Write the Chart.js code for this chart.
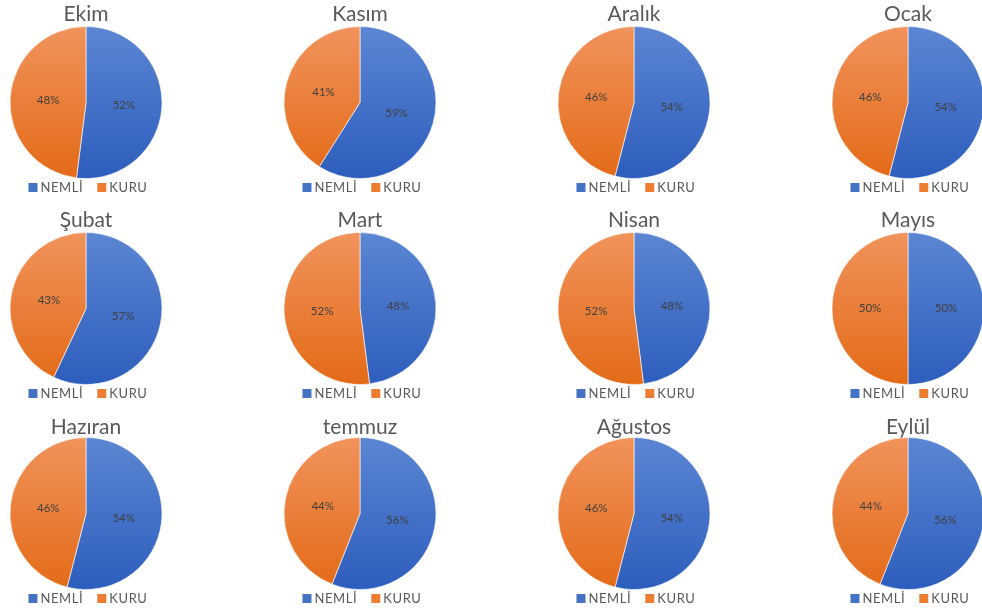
<!DOCTYPE html>
<html>
<head>
<meta charset="utf-8">
<script src="https://cdn.jsdelivr.net/npm/chart.js@4"></script>
<style>
  html, body { margin: 0; padding: 0; background: #fff; overflow: hidden; }
  body { width: 982px; height: 613px; position: relative; }
  .cell { position: absolute; width: 200px; }
</style>
</head>
<body>
<script>
// aylar ve yüzdeler
const aylar = ["Ekim","Kasım","Aralık","Ocak","Şubat","Mart","Nisan","Mayıs","Hazıran","temmuz","Ağustos","Eylül"];
const etiketler = ["NEMLİ","KURU"];
const nemli = [52,59,54,54,57,48,48,50,54,56,54,56];
const kuru  = [48,41,46,46,43,52,52,50,46,44,46,44];

const merkezX = [86,360,634,908];
const pastaUst = [26,232,437];     // pasta üst kenarı
const baslikYuk = [23,24,20];      // başlık satır yüksekliği

const renkUst = ["#5c86d3","#f1935c"];
const renkAlt = ["#2d5dbd","#e36a17"];
const duz = ["#4472c4","#ed7d31"];

function gradyan(c) {
  const chart = c.chart;
  const area = chart.chartArea;
  if (!area) return duz[c.dataIndex];
  const g = chart.ctx.createLinearGradient(0, area.top, 0, area.bottom);
  g.addColorStop(0, renkUst[c.dataIndex]);
  g.addColorStop(1, renkAlt[c.dataIndex]);
  return g;
}

const yuzdeEtiket = {
  id: "yuzdeEtiket",
  afterDatasetsDraw(chart) {
    const ctx = chart.ctx;
    const meta = chart.getDatasetMeta(0);
    const data = chart.data.datasets[0].data;
    ctx.save();
    ctx.font = "11.5px Lato";
    ctx.fillStyle = "#404040";
    ctx.textAlign = "center";
    ctx.textBaseline = "middle";
    meta.data.forEach((arc, i) => {
      const p = arc.tooltipPosition();
      ctx.fillText(data[i] + "%", p.x, p.y);
    });
    ctx.restore();
  }
};

const altLejant = {
  id: "altLejant",
  afterDraw(chart) {
    const ctx = chart.ctx;
    ctx.save();
    ctx.font = "13px Lato";
    ctx.letterSpacing = "0.6px";
    const kutu = 9, bosluk = 3, ara = 14;
    const genislik = chart.data.labels.reduce((a, t) => a + kutu + bosluk + ctx.measureText(t).width, 0) + ara * (chart.data.labels.length - 1);
    let x = chart.width / 2 + 2 - genislik / 2;
    const y = chart.chartArea.bottom + 8.5;
    ctx.textBaseline = "middle";
    chart.data.labels.forEach((t, i) => {
      ctx.fillStyle = duz[i];
      ctx.fillRect(x, y - kutu / 2, kutu, kutu);
      x += kutu + bosluk;
      ctx.fillStyle = "#595959";
      ctx.fillText(t, x, y + 0.5);
      x += ctx.measureText(t).width + ara;
    });
    ctx.restore();
  }
};

aylar.forEach((ay, i) => {
  const satir = Math.floor(i / 4);
  const lh = baslikYuk[satir];
  const div = document.createElement("div");
  div.className = "cell";
  div.style.left = (merkezX[i % 4] - 100) + "px";
  div.style.top = (pastaUst[satir] - 1 - lh) + "px";
  div.style.height = (1 + lh + 153 + 24) + "px";
  const cv = document.createElement("canvas");
  div.appendChild(cv);
  document.body.appendChild(div);

  new Chart(cv, {
    type: "pie",
    data: {
      labels: etiketler,
      datasets: [{
        data: [nemli[i], kuru[i]],
        backgroundColor: gradyan,
        borderColor: "rgba(255,255,255,0.6)",
        borderWidth: 1
      }]
    },
    options: {
      responsive: true,
      maintainAspectRatio: false,
      animation: false,
      layout: { padding: { bottom: 24 } },
      plugins: {
        legend: { display: false },
        tooltip: { enabled: false },
        title: {
          display: true,
          text: ay,
          color: "#595959",
          font: { family: "Lato", size: 21, weight: "normal", lineHeight: lh + "px" },
          padding: { top: 1, bottom: 0 }
        }
      }
    },
    plugins: [yuzdeEtiket, altLejant]
  });
});
</script>
</body>
</html>
